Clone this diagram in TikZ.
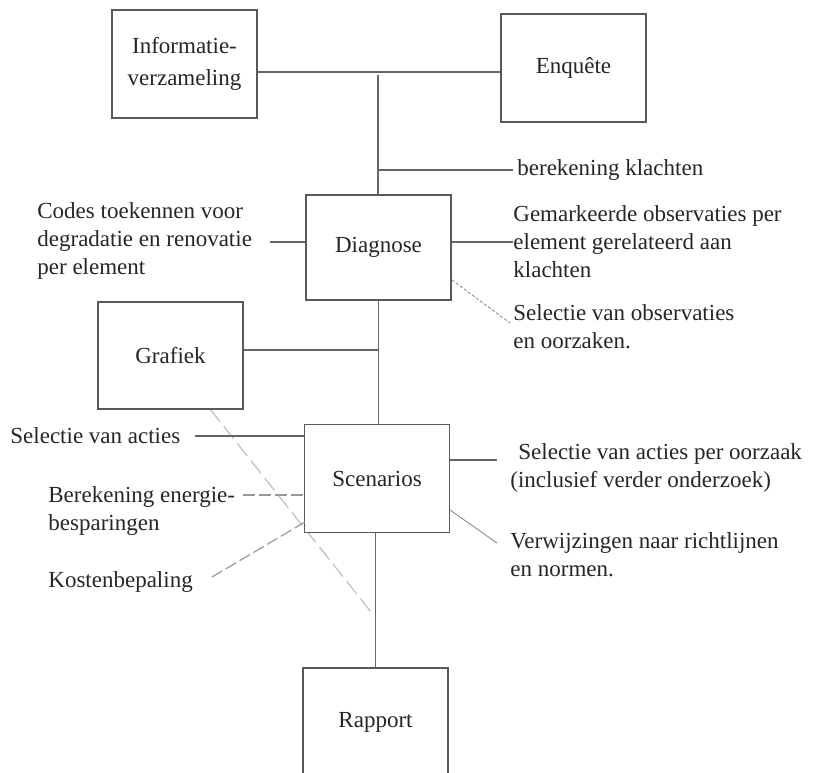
\documentclass[tikz,border=0pt]{standalone}
\usepackage{fontspec}
\setmainfont{Liberation Serif}
\pgfdeclarelayer{bg}
\pgfsetlayers{bg,main}
\begin{document}
\begin{tikzpicture}[x=0.5pt,y=-0.5pt,
  box/.style={draw=black!65, line width=0.6pt, fill=white, minimum width=72.5pt, minimum height=54pt, inner sep=0pt, align=center, font=\fontsize{11.5}{16}\selectfont, text=black!85},
  lbl/.style={anchor=west, inner sep=0pt, align=left, font=\fontsize{11.5}{14}\selectfont, text=black!85},
  conn/.style={draw=black!60, line width=0.55pt},
  thin/.style={draw=black!45, line width=0.45pt},
  dotty/.style={draw=black!45, line width=0.45pt, dash pattern=on 1.5pt off 1pt},
  faint/.style={draw=black!25, line width=0.6pt, dash pattern=on 8pt off 3pt},
  dashy/.style={draw=black!40, line width=0.6pt, dash pattern=on 6pt off 2pt}
]
\clip (0,0) rectangle (814,772);

% boxes
\node[box] (info) at (184.5,64) {Informatie-\\verzameling};
\node[box] (enq) at (573.5,68) {Enquête};
\node[box, minimum height=52.5pt] (diag) at (378.5,247.5) {Diagnose};
\node[box, minimum height=53.5pt] (graf) at (170.5,355.5) {Grafiek};
\node[box] (scen) at (377,478.5) {Scenarios};
\node[box] (rapp) at (375.5,722) {Rapport};

% labels
\node[lbl] (bk) at (517,170) {berekening klachten};
\node[lbl] (codes) at (37,241) {Codes toekennen voor\\degradatie en renovatie\\per element};
\node[lbl] (gem) at (513,242) {Gemarkeerde observaties per\\element gerelateerd aan\\klachten};
\node[lbl] (selobs) at (513,327) {Selectie van observaties\\en oorzaken.};
\node[lbl] (selact) at (10,436) {Selectie van acties};
\node[lbl] (bereng) at (48,511) {Berekening energie-\\besparingen};
\node[lbl] (kost) at (48,582) {Kostenbepaling};
\node[lbl] (selpo) at (510,468) {\hspace{4pt}Selectie van acties per oorzaak\\(inclusief verder onderzoek)};
\node[lbl] (verw) at (510,555) {Verwijzingen naar richtlijnen\\en normen.};

% junctions
\coordinate (jt) at (378,72);
\coordinate (jt2) at (378,75);
\coordinate (jb) at (378,170);
\coordinate (jb2) at (513,170);
\coordinate (jg) at (378,350);
\coordinate (c1) at (270,242);
\coordinate (c2) at (195,436);
\coordinate (c3) at (243,495);
\coordinate (c4) at (212,577);
\coordinate (c5) at (305,522);
\coordinate (d1) at (452,280);
\coordinate (d2) at (510,323);
\coordinate (s1) at (497,460);
\coordinate (s2) at (450,510);
\coordinate (s3) at (497,543);
\coordinate (g1) at (210,409);
\coordinate (g2) at (371,612);

% connectors
\draw[conn] (info.east |- jt) -- (enq.west |- jt);
\draw[conn] (jt2) -- (jt2 |- diag.north);
\draw[conn] (jb) -- (jb2);
\draw[conn] (c1) -- (c1 -| diag.west);
\draw[conn] (diag.east |- gem.west) -- (gem.west);
\draw[dotty] (d1) -- (d2);
\draw[conn] (diag.south) -- (diag.south |- scen.north);
\draw[conn] (graf.east |- jg) -- (jg);
\draw[conn] (c2) -- (c2 -| scen.west);
\draw[dashy] (c3) -- (c3 -| scen.west);
\draw[dashy] (c4) -- (c5);
\draw[conn] (scen.east |- s1) -- (s1);
\draw[thin] (s2) -- (s3);
\draw[conn] (rapp.north |- scen.south) -- (rapp.north);
\begin{pgfonlayer}{bg}
\draw[faint] (g1) -- (g2);
\end{pgfonlayer}
\end{tikzpicture}
\end{document}
